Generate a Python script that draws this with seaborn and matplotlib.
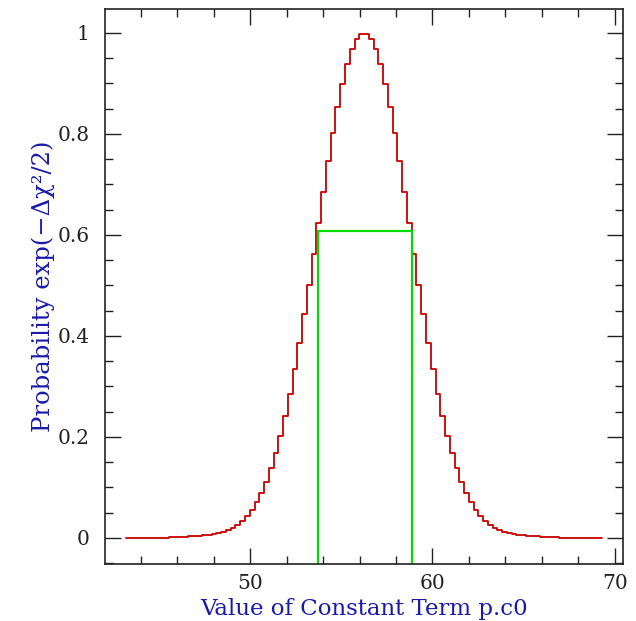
import numpy as np
import pandas as pd
import matplotlib
matplotlib.use("Agg")
import matplotlib.pyplot as plt
from matplotlib.ticker import MultipleLocator
import seaborn as sns

# ---- data ----
x_start = 43.17
x_end = 69.32
n_bins = 100
# probability per bin (left tail -> peak -> right tail)
half = [0.9987, 0.9883, 0.9679, 0.9381, 0.8997, 0.8540, 0.8022, 0.7457, 0.6860, 0.6245,
        0.5626, 0.5016, 0.4426, 0.3864, 0.3339, 0.2855, 0.2416, 0.2023, 0.1677, 0.1376,
        0.1116, 0.0897, 0.0713, 0.0561, 0.0440, 0.0342, 0.0265, 0.0205, 0.0158, 0.0125,
        0.0100, 0.0082, 0.0068, 0.0057, 0.0048, 0.0040, 0.0032, 0.0026, 0.0020, 0.0015,
        0.0010, 0.0007, 0.0005, 0.0004, 0.0003, 0.0002, 0.0002, 0.0001, 0.0001, 0.0000]
probability = half[::-1] + half
band_x = [53.74, 53.74, 58.86, 58.86]
band_y = [-0.06, 0.607, 0.607, -0.06]

edges = np.linspace(x_start, x_end, n_bins + 1)
centers = 0.5 * (edges[:-1] + edges[1:])
df = pd.DataFrame({"x": centers, "p": probability})

sns.set_theme(style="ticks")
plt.rcParams["font.family"] = ["DejaVu Serif"]

fig = plt.figure(figsize=(6.36, 6.21), dpi=100)
ax = fig.add_axes([0.165, 0.0918, 0.814, 0.8937])

sns.histplot(data=df, x="x", weights="p", bins=n_bins, binrange=(x_start, x_end),
             element="step", fill=False, color="#c80000", linewidth=1.3, ax=ax)
ax.plot(band_x, band_y, color="#00dd00", linewidth=1.6, solid_joinstyle="miter")

ax.set_xlim(42.02, 70.44)
ax.set_ylim(-0.0515, 1.0475)
ax.xaxis.set_major_locator(MultipleLocator(10))
ax.xaxis.set_minor_locator(MultipleLocator(2))
ax.yaxis.set_minor_locator(MultipleLocator(0.05))
ax.set_yticks([0, 0.2, 0.4, 0.6, 0.8, 1.0])
ax.set_yticklabels(["0", "0.2", "0.4", "0.6", "0.8", "1"])

ax.tick_params(which="both", direction="in", top=True, right=True, colors="#222222",
               labelsize=14.5, width=1.0)
ax.tick_params(axis="x", which="both", pad=7)
ax.tick_params(axis="y", which="both", pad=11)
ax.tick_params(which="major", length=11.5)
ax.tick_params(which="minor", length=6)
for s in ax.spines.values():
    s.set_visible(True)
    s.set_linewidth(1.2)
    s.set_color("#222222")

ax.set_xlabel("Value of Constant Term p.c0", color="#1a1aaa", fontsize=16.5, labelpad=4)
ax.set_ylabel("Probability exp(\u2212\u0394\u03c7\u00b2/2)", color="#1a1aaa", fontsize=17.5,
              labelpad=2)

fig.savefig("out.png", dpi=100, facecolor="white")
